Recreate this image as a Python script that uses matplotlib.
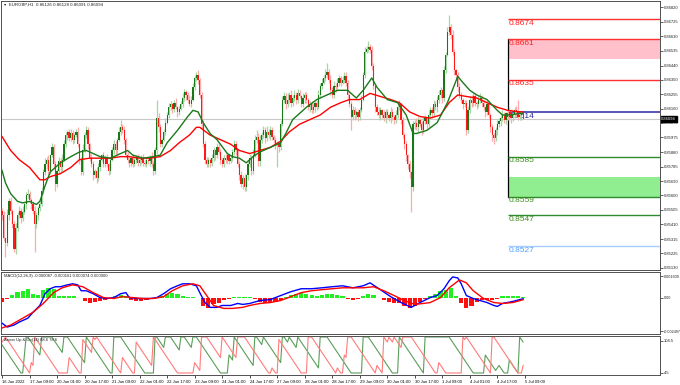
import numpy as np
import matplotlib
matplotlib.use("Agg")
import matplotlib.pyplot as plt
from matplotlib.patches import Rectangle

plt.rcParams['font.family'] = ['Liberation Sans', 'DejaVu Sans']

# EURGBP H1, one close per hourly bar (16 Jun 2022 .. 5 Jul 2022 09:00)
closes = [
    0.8547, 0.8532, 0.8529, 0.8547, 0.8556, 0.8550, 0.8541, 0.8525, 0.8539, 0.8547,
    0.8550, 0.8545, 0.8549, 0.8554, 0.8560, 0.8561, 0.8557, 0.8554, 0.8550, 0.8541,
    0.8547, 0.8552, 0.8554, 0.8563, 0.8575, 0.8580, 0.8583, 0.8576, 0.8586, 0.8591,
    0.8580, 0.8567, 0.8576, 0.8582, 0.8578, 0.8583, 0.8593, 0.8599, 0.8601, 0.8597,
    0.8600, 0.8596, 0.8599, 0.8601, 0.8593, 0.8583, 0.8575, 0.8589, 0.8599, 0.8602,
    0.8593, 0.8584, 0.8580, 0.8573, 0.8576, 0.8571, 0.8578, 0.8583, 0.8586, 0.8580,
    0.8584, 0.8580, 0.8576, 0.8583, 0.8589, 0.8593, 0.8589, 0.8596, 0.8601, 0.8604,
    0.8602, 0.8596, 0.8586, 0.8583, 0.8581, 0.8584, 0.8580, 0.8583, 0.8585, 0.8581,
    0.8583, 0.8584, 0.8581, 0.8580, 0.8583, 0.8582, 0.8585, 0.8580, 0.8576, 0.8589,
    0.8610, 0.8604, 0.8593, 0.8596, 0.8601, 0.8607, 0.8612, 0.8617, 0.8619, 0.8616,
    0.8620, 0.8617, 0.8614, 0.8616, 0.8619, 0.8623, 0.8627, 0.8625, 0.8622, 0.8619,
    0.8622, 0.8630, 0.8636, 0.8638, 0.8635, 0.8625, 0.8606, 0.8593, 0.8583, 0.8580,
    0.8583, 0.8581, 0.8584, 0.8589, 0.8586, 0.8591, 0.8588, 0.8583, 0.8580, 0.8584,
    0.8583, 0.8586, 0.8582, 0.8584, 0.8588, 0.8593, 0.8589, 0.8580, 0.8573, 0.8567,
    0.8571, 0.8565, 0.8573, 0.8580, 0.8584, 0.8576, 0.8586, 0.8596, 0.8598, 0.8582,
    0.8596, 0.8599, 0.8602, 0.8597, 0.8601, 0.8599, 0.8602, 0.8598, 0.8596, 0.8593,
    0.8593, 0.8591, 0.8606, 0.8622, 0.8624, 0.8619, 0.8622, 0.8625, 0.8620, 0.8623,
    0.8625, 0.8622, 0.8626, 0.8624, 0.8619, 0.8623, 0.8625, 0.8622, 0.8617, 0.8619,
    0.8615, 0.8617, 0.8620, 0.8617, 0.8625, 0.8631, 0.8633, 0.8636, 0.8638, 0.8640,
    0.8635, 0.8628, 0.8625, 0.8631, 0.8630, 0.8633, 0.8636, 0.8633, 0.8635, 0.8637,
    0.8633, 0.8625, 0.8619, 0.8611, 0.8615, 0.8612, 0.8614, 0.8611, 0.8615, 0.8622,
    0.8638, 0.8653, 0.8655, 0.8656, 0.8654, 0.8644, 0.8631, 0.8617, 0.8614, 0.8612,
    0.8615, 0.8612, 0.8610, 0.8614, 0.8612, 0.8610, 0.8614, 0.8611, 0.8609, 0.8612,
    0.8617, 0.8619, 0.8609, 0.8599, 0.8593, 0.8586, 0.8580, 0.8575, 0.8565, 0.8606,
    0.8607, 0.8604, 0.8609, 0.8606, 0.8602, 0.8608, 0.8610, 0.8606, 0.8612, 0.8615,
    0.8613, 0.8619, 0.8617, 0.8622, 0.8625, 0.8628, 0.8623, 0.8641, 0.8651, 0.8666,
    0.8669, 0.8664, 0.8653, 0.8641, 0.8638, 0.8630, 0.8625, 0.8622, 0.8619, 0.8620,
    0.8602, 0.8615, 0.8622, 0.8620, 0.8624, 0.8620, 0.8619, 0.8622, 0.8623, 0.8620,
    0.8617, 0.8614, 0.8619, 0.8612, 0.8604, 0.8599, 0.8597, 0.8602, 0.8606, 0.8608,
    0.8610, 0.8612, 0.8609, 0.8613, 0.8611, 0.8614, 0.8610, 0.8612, 0.8615, 0.8614,
    0.8611, 0.8612, 0.86126, 0.86094,
]
first_open = 0.8550

# wick lengths beyond the body, in pips
wick_up = [
    2, 3, 1, 4, 2, 3, 1, 2, 3, 2, 3, 2, 4, 1, 2, 3, 2, 1, 2, 3,
    2, 1, 3, 2, 2, 4, 2, 3, 1, 3, 2, 2, 1, 3, 2, 4, 3, 2, 1, 2,
    3, 2, 1, 2, 3, 1, 2, 4, 2, 3, 2, 1, 3, 2, 1, 2, 3, 2, 1, 2,
    2, 3, 1, 2, 2, 3, 2, 1, 3, 5, 2, 3, 1, 2, 2, 1, 3, 2, 1, 2,
    1, 2, 3, 2, 1, 2, 1, 3, 2, 2, 12, 3, 2, 1, 2, 3, 2, 3, 2, 1,
    2, 3, 1, 2, 2, 3, 2, 1, 2, 3, 2, 3, 2, 2, 3, 1, 2, 3, 2, 2,
    2, 1, 3, 2, 1, 3, 2, 2, 1, 2, 3, 2, 1, 2, 2, 3, 2, 1, 2, 3,
    2, 3, 1, 2, 3, 2, 4, 3, 4, 2, 3, 2, 3, 2, 4, 2, 3, 2, 1, 2,
    2, 1, 3, 2, 3, 2, 4, 2, 3, 2, 3, 2, 3, 2, 1, 3, 2, 2, 1, 2,
    2, 3, 1, 2, 3, 2, 3, 2, 4, 6, 2, 3, 2, 3, 2, 3, 2, 1, 2, 3,
    3, 2, 1, 2, 3, 2, 1, 2, 2, 3, 2, 3, 2, 4, 2, 3, 2, 1, 2, 3,
    2, 1, 3, 2, 2, 1, 3, 2, 1, 3, 2, 3, 1, 2, 1, 2, 1, 2, 1, 2,
    2, 3, 2, 1, 2, 3, 2, 1, 3, 2, 2, 3, 2, 2, 3, 2, 1, 3, 2, 3,
    8, 2, 3, 2, 1, 2, 3, 2, 1, 2, 2, 3, 2, 3, 2, 2, 1, 2, 3, 2,
    2, 1, 3, 2, 1, 2, 1, 2, 3, 2, 2, 3, 2, 1, 2, 3, 2, 1, 2, 3,
    8, 2, 2, 0.2,
]
wick_dn = [
    3, 2, 9, 2, 3, 2, 2, 2, 3, 2, 2, 3, 2, 1, 3, 2, 2, 3, 2, 18,
    2, 3, 2, 1, 2, 2, 3, 2, 2, 1, 3, 4, 2, 2, 3, 2, 1, 2, 3, 2,
    2, 3, 2, 1, 2, 3, 2, 2, 1, 2, 3, 2, 2, 3, 2, 3, 2, 2, 1, 2,
    2, 2, 3, 2, 1, 2, 3, 2, 1, 2, 2, 3, 2, 2, 3, 2, 2, 1, 2, 2,
    2, 3, 2, 1, 2, 2, 3, 2, 3, 2, 2, 3, 2, 2, 1, 2, 1, 2, 2, 3,
    2, 1, 3, 2, 1, 2, 2, 3, 2, 1, 2, 1, 2, 2, 3, 2, 3, 2, 3, 2,
    2, 3, 2, 2, 3, 2, 1, 3, 2, 2, 2, 3, 2, 1, 2, 2, 3, 2, 3, 2,
    3, 2, 2, 3, 2, 3, 2, 1, 2, 3, 3, 2, 2, 3, 2, 2, 3, 2, 2, 3,
    15, 3, 2, 1, 2, 3, 2, 2, 3, 2, 2, 3, 2, 1, 2, 2, 3, 2, 2, 3,
    2, 2, 3, 2, 1, 2, 2, 1, 2, 2, 2, 3, 2, 2, 3, 1, 2, 2, 1, 2,
    2, 3, 2, 9, 2, 3, 2, 3, 2, 1, 1, 2, 1, 2, 2, 3, 2, 3, 2, 2,
    3, 2, 2, 3, 2, 2, 3, 2, 3, 2, 2, 2, 3, 2, 3, 4, 3, 4, 16, 2,
    3, 2, 3, 2, 3, 2, 2, 3, 2, 2, 3, 2, 2, 3, 2, 2, 3, 2, 2, 1,
    2, 3, 2, 3, 2, 3, 2, 2, 3, 2, 3, 2, 2, 3, 2, 2, 3, 2, 2, 3,
    2, 3, 2, 2, 3, 4, 4, 2, 3, 2, 3, 2, 2, 3, 2, 2, 3, 2, 2, 3,
    2, 2, 3, 0.3,
]

# moving averages, read at sample bars
ma_fast_bar = [0, 2, 5, 9, 12, 16, 20, 22, 25, 28, 31, 34, 40, 45, 49, 53, 57, 63, 69, 73,
               76, 82, 88, 92, 96, 102, 108, 111, 114, 117, 121, 125, 131, 134, 138, 142, 146, 150, 156, 162,
               165, 169, 177, 183, 189, 195, 201, 206, 210, 215, 218, 224, 230, 235, 239, 241, 247, 253, 259, 265,
               268, 272, 276, 282, 288, 291, 295, 301, 303]
ma_fast = [0.8576, 0.8568, 0.8561, 0.8556, 0.8555, 0.8556, 0.8554, 0.8556, 0.8566, 0.8575,
           0.8578, 0.8581, 0.8585, 0.8588, 0.8589, 0.8587, 0.8585, 0.8584, 0.8587, 0.8589,
           0.8586, 0.8584, 0.8585, 0.8586, 0.8594, 0.8602, 0.8611, 0.8615, 0.8614, 0.8607,
           0.8600, 0.8596, 0.8587, 0.8585, 0.8584, 0.8581, 0.8585, 0.8588, 0.8591, 0.8594,
           0.8600, 0.8609, 0.8617, 0.8622, 0.8625, 0.8628, 0.8628, 0.8623, 0.8628, 0.8636,
           0.8630, 0.8622, 0.8620, 0.8612, 0.8600, 0.8600, 0.8602, 0.8607, 0.8620, 0.8637,
           0.8633, 0.8628, 0.8625, 0.8622, 0.8615, 0.8612, 0.8612, 0.8613, 0.8613]
ma_slow_bar = [0, 5, 10, 16, 22, 25, 28, 34, 40, 45, 51, 57, 63, 69, 74, 80, 86, 92, 98, 103,
               109, 113, 115, 121, 127, 133, 138, 144, 150, 156, 162, 167, 173, 179, 185, 191, 197, 202, 208, 214,
               220, 226, 231, 237, 243, 249, 255, 260, 265, 270, 276, 282, 288, 294, 301, 303]
ma_slow = [0.8598, 0.8589, 0.8583, 0.8578, 0.8570, 0.8570, 0.8572, 0.8574, 0.8578, 0.8583,
           0.8584, 0.8584, 0.8584, 0.8585, 0.8585, 0.8584, 0.8584, 0.8585, 0.8589, 0.8594,
           0.8599, 0.8604, 0.8604, 0.8599, 0.8596, 0.8593, 0.8589, 0.8587, 0.8589, 0.8591,
           0.8595, 0.8601, 0.8606, 0.8609, 0.8612, 0.8617, 0.8620, 0.8622, 0.8622, 0.8626,
           0.8624, 0.8622, 0.8620, 0.8614, 0.8611, 0.8610, 0.8612, 0.8620, 0.8625, 0.8624,
           0.8623, 0.8620, 0.8617, 0.8615, 0.8614, 0.8614]

# MACD(12,26,9)
macd_bar = [0, 3, 7, 10, 15, 18, 22, 25, 28, 31, 34, 38, 41, 44, 46, 49, 53, 57, 61, 65,
            69, 72, 74, 78, 82, 86, 90, 94, 98, 102, 105, 109, 113, 115, 118, 121, 125, 128, 133, 137,
            140, 144, 150, 156, 162, 168, 174, 180, 186, 192, 198, 204, 210, 214, 220, 226, 232, 238, 242, 249,
            253, 257, 260, 262, 265, 267, 270, 274, 278, 282, 286, 288, 291, 297, 301, 303]
macd_line = [-0.00191, -0.00220, -0.00205, -0.00183, -0.00154, -0.00110, -0.00059, 0.00029, 0.00066, 0.00081,
             0.00081, 0.00095, 0.00103, 0.00095, 0.00051, 0.00051, 0.00029, 0.00000, -0.00007, 0.00000,
             0.00029, 0.00037, 0.00000, -0.00007, -0.00007, -0.00007, 0.00000, 0.00029, 0.00066, 0.00088,
             0.00103, 0.00103, 0.00088, 0.00037, -0.00037, -0.00073, -0.00073, -0.00059, -0.00059, -0.00044,
             -0.00051, -0.00044, -0.00022, -0.00015, 0.00015, 0.00044, 0.00066, 0.00066, 0.00073, 0.00081,
             0.00088, 0.00073, 0.00088, 0.00110, 0.00059, 0.00007, -0.00037, -0.00073, -0.00044, 0.00000,
             0.00015, 0.00066, 0.00125, 0.00154, 0.00147, 0.00103, 0.00015, -0.00007, -0.00022, -0.00037,
             -0.00059, -0.00066, -0.00044, -0.00029, -0.00015, -0.000087]
signal_bar = [0, 5, 10, 18, 24, 30, 35, 41, 47, 53, 59, 65, 70, 76, 82, 88, 94, 99, 105, 111,
              115, 119, 123, 129, 134, 140, 144, 150, 156, 162, 168, 174, 180, 186, 192, 198, 204, 210, 216, 222,
              228, 234, 240, 245, 249, 255, 260, 266, 270, 274, 280, 286, 291, 297, 303]
signal_line = [-0.00227, -0.00205, -0.00169, -0.00110, -0.00044, 0.00037, 0.00073, 0.00095, 0.00081, 0.00037,
               0.00000, -0.00007, 0.00007, 0.00000, -0.00007, -0.00007, 0.00007, 0.00051, 0.00088, 0.00103,
               0.00088, 0.00015, -0.00059, -0.00081, -0.00081, -0.00073, -0.00059, -0.00044, -0.00037, -0.00022,
               0.00007, 0.00037, 0.00051, 0.00059, 0.00066, 0.00073, 0.00073, 0.00073, 0.00081, 0.00051,
               0.00015, -0.00022, -0.00051, -0.00044, -0.00037, 0.00000, 0.00073, 0.00132, 0.00110, 0.00051,
               -0.00007, -0.00037, -0.00044, -0.00037, -0.000161]
# histogram, every third bar starting at bar 0
macd_hist = [-0.00030, -0.00010, 0.00020, 0.00044, 0.00051, 0.00066, 0.00029, 0.00022, 0.00059, 0.00073,
             0.00066, 0.00015, 0.00015, 0.00015, 0.00012, -0.00005, -0.00029, -0.00037, -0.00030, -0.00022,
             -0.00015, -0.00005, 0.00015, 0.00018, 0.00015, -0.00015, -0.00022, -0.00022, -0.00015, -0.00003,
             0.00005, 0.00015, 0.00030, 0.00035, 0.00025, 0.00015, 0.00008, 0.00008, -0.00005, -0.00060,
             -0.00080, -0.00050, -0.00040, -0.00020, -0.00010, 0.00008, 0.00008, 0.00008, 0.00005, -0.00010,
             -0.00030, -0.00040, -0.00040, -0.00030, -0.00020, 0.00005, 0.00020, 0.00030, 0.00035, 0.00030,
             0.00020, 0.00015, 0.00020, 0.00030, 0.00030, 0.00020, 0.00010, -0.00010, -0.00020, -0.00010,
             0.00010, 0.00030, 0.00020, 0.00000, -0.00020, -0.00030, -0.00040, -0.00040, -0.00060, -0.00080,
             -0.00060, -0.00030, -0.00010, 0.00010, 0.00030, 0.00050, 0.00060, 0.00070, 0.00010, -0.00040,
             -0.00080, -0.00060, -0.00030, -0.00020, -0.00020, -0.00015, -0.00010, 0.00010, 0.00015, 0.00015,
             0.00012, 0.000074]

# Aroon(14) turning points
aroon_up_bar = [0, 11, 12, 14, 15, 22, 23, 29, 35, 36, 38, 48, 49, 63, 64, 65, 69, 83, 88, 89,
                90, 94, 95, 98, 103, 104, 106, 110, 111, 113, 127, 131, 132, 134, 135, 146, 147, 148, 151, 152,
                162, 163, 164, 166, 167, 171, 172, 184, 185, 189, 203, 209, 210, 213, 227, 230, 231, 245, 246, 260,
                274, 280, 281, 287, 289, 292, 294, 295, 298, 300, 301, 303]
aroon_up = [78, 0, 0, 100, 100, 50, 100, 100, 57, 100, 100, 29, 100, 0, 0, 100, 100, 0, 0, 100,
            100, 71, 100, 100, 64, 100, 100, 71, 100, 100, 0, 0, 50, 36, 100, 21, 100, 100, 79, 100,
            29, 100, 100, 86, 100, 71, 100, 14, 100, 100, 0, 0, 100, 100, 0, 0, 100, 0, 100, 100,
            0, 0, 50, 7, 21, 0, 0, 36, 14, 0, 100, 86]
aroon_dn_bar = [0, 2, 16, 17, 18, 19, 33, 38, 39, 45, 46, 47, 52, 53, 54, 55, 69, 70, 76, 77,
                78, 87, 88, 102, 111, 112, 115, 116, 119, 127, 128, 136, 137, 141, 155, 156, 157, 159, 160, 161,
                174, 177, 178, 180, 194, 195, 197, 198, 199, 200, 201, 203, 217, 218, 221, 222, 224, 225, 227, 228,
                232, 233, 238, 252, 253, 254, 258, 267, 268, 269, 270, 284, 285, 286, 300, 302, 303]
aroon_dn = [86, 100, 0, 29, 21, 100, 0, 0, 43, 0, 0, 93, 57, 100, 93, 100, 0, 43, 0, 0,
            86, 21, 100, 0, 0, 29, 7, 100, 100, 43, 100, 43, 100, 100, 0, 0, 14, 0, 0, 93,
            0, 0, 100, 100, 0, 14, 0, 0, 50, 43, 100, 100, 0, 21, 0, 100, 86, 100, 86, 100,
            71, 100, 100, 0, 0, 29, 0, 0, 100, 93, 100, 0, 100, 100, 0, 0, 21]

# support / resistance levels drawn from bar 294
level_start = 294
red_levels = [0.8674, 0.8661, 0.8635]
navy_level = 0.8614
green_levels = [0.8585, 0.8559, 0.8547]
blue_level = 0.8527
pink_zone = (0.8648, 0.8661)
green_zone = (0.8559, 0.8572)

price_ticks = [0.86820, 0.86725, 0.86630, 0.86535, 0.86440, 0.86350, 0.86255, 0.86160, 0.86070,
               0.85975, 0.85880, 0.85785, 0.85690, 0.85600, 0.85505, 0.85410, 0.85315, 0.85225, 0.85130]
last_price = 0.86094
time_labels = ["16 Jun 2022", "17 Jun 09:00", "20 Jun 01:00", "20 Jun 17:00", "21 Jun 09:00",
               "22 Jun 01:00", "22 Jun 17:00", "23 Jun 09:00", "24 Jun 01:00", "24 Jun 17:00",
               "27 Jun 09:00", "28 Jun 01:00", "28 Jun 17:00", "29 Jun 09:00", "30 Jun 01:00",
               "30 Jun 17:00", "1 Jul 09:00", "4 Jul 01:00", "4 Jul 17:00", "5 Jul 09:00"]
time_label_bars = [16 * k for k in range(len(time_labels))]

W, H = 680, 385
fig = plt.figure(figsize=(W / 100, H / 100), dpi=100)


def panel(top, bottom):
    a = fig.add_axes([1 / W, 1 - bottom / H, 659 / W, (bottom - top) / H])
    a.set_xlim(-0.6, 382.6)
    a.yaxis.tick_right()
    a.tick_params(axis='y', direction='out', length=2, width=0.5, pad=1, labelsize=3, colors='#202020')
    a.tick_params(axis='x', length=0, labelbottom=False)
    for s in a.spines.values():
        s.set_color('#505050')
        s.set_linewidth(0.7)
    return a


ax = panel(1, 270)
axm = panel(272, 334)
axa = panel(336, 375)

# ---- candles
c = np.array(closes)
o = np.r_[first_open, c[:-1]]
x = np.arange(len(c))
hi = np.maximum(o, c) + np.array(wick_up) * 1e-4
lo = np.minimum(o, c) - np.array(wick_dn) * 1e-4
bull = c >= o
ax.vlines(x[bull], lo[bull], hi[bull], color='#a6d6a6', lw=0.9, zorder=3)
ax.vlines(x[~bull], lo[~bull], hi[~bull], color='#ffabab', lw=0.9, zorder=3)
body = np.maximum(np.abs(c - o), 0.00002)
ax.bar(x[bull], body[bull], bottom=o[bull], width=0.7, color='#187818', lw=0, zorder=4)
ax.bar(x[~bull], body[~bull], bottom=c[~bull], width=0.7, color='#ff1a1a', lw=0, zorder=4)

ax.plot(ma_slow_bar, ma_slow, color='#ff0000', lw=1.0, zorder=5)
ax.plot(ma_fast_bar, ma_fast, color='#1a7a1a', lw=1.0, zorder=5)

ax.axhline(last_price, color='#c8c8c8', lw=0.8, zorder=1)

# ---- levels and zones
xr = 382.6
ax.add_patch(Rectangle((level_start, pink_zone[0]), xr - level_start, pink_zone[1] - pink_zone[0],
                       color='#ffc0cb', lw=0, zorder=1))
ax.add_patch(Rectangle((level_start, green_zone[0]), xr - level_start, green_zone[1] - green_zone[0],
                       color='#90ee90', lw=0, zorder=1))
ax.plot([level_start, level_start], [red_levels[1], green_levels[1]], color='black', lw=0.9, zorder=2)

lab = dict(fontsize=6, va='top', ha='left', zorder=2)
for v in red_levels:
    ax.hlines(v, level_start, xr, color='#ff3030', lw=1.0, zorder=2)
    ax.text(level_start + 0.5, v - 0.00004, f"{v:.4f}", color='#ff2020', **lab)
ax.hlines(navy_level, level_start, xr, color='#3a3aa8', lw=1.2, zorder=2)
ax.text(level_start + 0.5, navy_level - 0.00004, f"{navy_level:.4f}", color='#2a2aa0', **lab)
for v in green_levels:
    ax.hlines(v, level_start, xr, color='#2e8b2e', lw=1.0, zorder=2)
    ax.text(level_start + 0.5, v - 0.00004, f"{v:.4f}", color='#3c8c1c', **lab)
ax.hlines(blue_level, level_start, xr, color='#a8ccff', lw=1.0, zorder=2)
ax.text(level_start + 0.5, blue_level - 0.00004, f"{blue_level:.4f}", color='#4f9fff', **lab)

ax.set_ylim(0.85115, 0.86859)
ax.set_yticks(price_ticks, [f"{v:.5f}" for v in price_ticks])
ax.text(1.002, last_price, f"{last_price:.5f}", transform=ax.get_yaxis_transform(), fontsize=3,
        color='white', va='center', ha='left',
        bbox=dict(boxstyle='square,pad=0.15', fc='black', ec='black'), zorder=10, clip_on=False)
ax.text(0.004, 0.995, "\u25be  EURGBP,H1  0.86126 0.86128 0.86091 0.86094", transform=ax.transAxes,
        fontsize=3.2, va='top', ha='left', color='#202020')

# ---- MACD
hb = np.arange(0, 3 * len(macd_hist), 3)
hv = np.array(macd_hist)
axm.bar(hb[hv >= 0], hv[hv >= 0], width=2.4, color='#22ee22', lw=0)
axm.bar(hb[hv < 0], hv[hv < 0], width=2.4, color='#ff1010', lw=0)
axm.plot(macd_bar, macd_line, color='#0000ff', lw=1.0)
axm.plot(signal_bar, signal_line, color='#ff0000', lw=1.0)
axm.set_ylim(-0.00272, 0.00191)
axm.set_yticks([0.001609, 0.0, -0.002497], ["0.001609", "0.00", "-0.002497"])
axm.tick_params(axis='y', labelsize=2.7, pad=0.6)
axm.text(0.004, 0.97, "MACD(12,26,9) -0.000087 -0.000161 0.000074 0.000000", transform=axm.transAxes,
         fontsize=3, va='top', ha='left', color='#202020')

# ---- Aroon
axa.plot(aroon_up_bar, aroon_up, color='#5a9e5a', lw=0.8)
axa.plot(aroon_dn_bar, aroon_dn, color='#ff7b7b', lw=0.8)
axa.set_ylim(-5.6, 102.8)
axa.set_yticks([89, 0], ["104.5", "4.5"])
axa.text(0.004, 0.96, "Aroon Up & Dn(14) 88.6 78.6", transform=axa.transAxes,
         fontsize=3, va='top', ha='left', color='#202020')

axa.set_xticks(time_label_bars)
axa.set_xticklabels(time_labels, ha='left')
axa.tick_params(axis='x', length=2, width=0.5, pad=1.5, labelsize=3, labelbottom=True, direction='out')

fig.savefig('out.png', dpi=100)
